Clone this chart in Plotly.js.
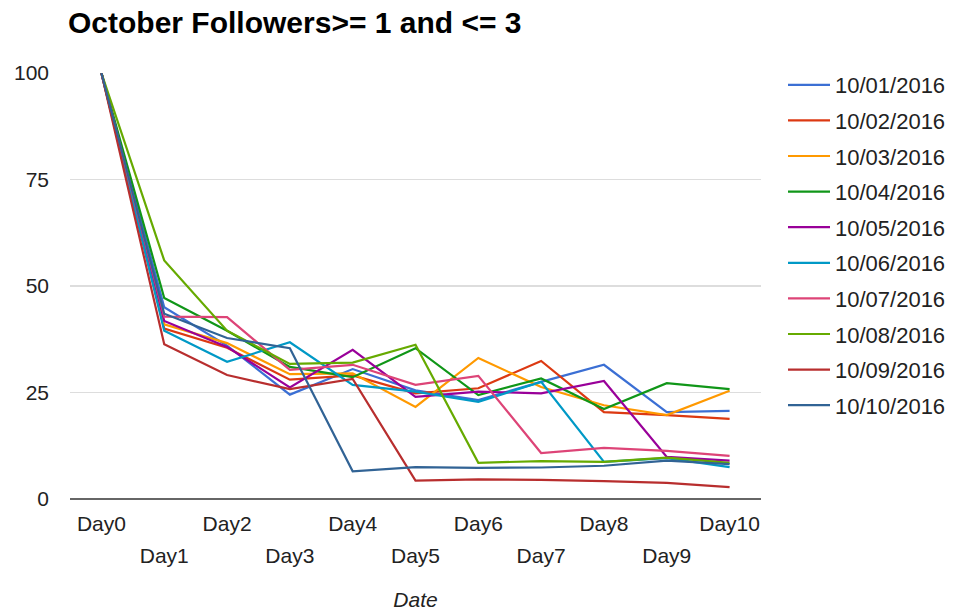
<!DOCTYPE html>
<html><head><meta charset="utf-8">
<script src="https://cdn.plot.ly/plotly-3.0.1.min.js"></script>
<style>html,body{margin:0;padding:0;background:#fff}#chart{width:960px;height:611px}</style>
</head><body><div id="chart"></div>
<script>
const days = ["Day0","Day1","Day2","Day3","Day4","Day5","Day6","Day7","Day8","Day9","Day10"];
const seriesNames = ["10/01/2016","10/02/2016","10/03/2016","10/04/2016","10/05/2016","10/06/2016","10/07/2016","10/08/2016","10/09/2016","10/10/2016"];
const colors = ["#3b6fd4","#dc3912","#ff9900","#109618","#990099","#0099c6","#dd4477","#66aa00","#b82e2e","#316395"];
const s1001 = [100, 45, 36, 24.5, 30.5, 25.5, 23.2, 27.5, 31.5, 20.4, 20.7];
const s1002 = [100, 40, 35.5, 28, 29, 24.8, 26, 32.4, 20.4, 19.7, 18.8];
const s1003 = [100, 41, 36.6, 29.3, 29.5, 21.6, 33.1, 26.3, 22, 19.7, 25.4];
const s1004 = [100, 47.2, 39.5, 31, 28.6, 35.4, 24.4, 28.3, 21.1, 27.2, 25.8];
const s1005 = [100, 41.8, 35.7, 26.2, 35, 24, 25.2, 24.8, 27.7, 9.9, 9];
const s1006 = [100, 39.5, 32.2, 36.8, 26.8, 25.2, 22.8, 27.5, 8.7, 9.6, 7.5];
const s1007 = [100, 42.8, 42.7, 30.3, 31.5, 26.8, 28.9, 10.8, 12, 11.3, 10.1];
const s1008 = [100, 56, 39.5, 31.7, 32, 36.2, 8.5, 8.9, 8.7, 9.7, 8.5];
const s1009 = [100, 36.3, 29.1, 25.8, 28.2, 4.3, 4.6, 4.5, 4.2, 3.8, 2.8];
const s1010 = [100, 43.5, 37.8, 35.4, 6.5, 7.5, 7.3, 7.4, 7.8, 9, 8.2];
const allSeries = [s1001,s1002,s1003,s1004,s1005,s1006,s1007,s1008,s1009,s1010];
const yTicks = [0, 25, 50, 75, 100];

const traces = allSeries.map((vals, i) => ({
  type: "scatter", mode: "lines",
  x: days.map((d, k) => k), y: vals,
  name: seriesNames[i], legendgroup: "g" + i,
  line: {color: colors[i], width: 2.2},
  xaxis: "x", yaxis: "y"
}));

const evenIdx = days.map((d,k)=>k).filter(k=>k%2===0);
const oddIdx = days.map((d,k)=>k).filter(k=>k%2===1);
const FS = 21;

const layout = {
  width: 960, height: 611,
  margin: {l: 70, r: 199, t: 73, b: 112},
  paper_bgcolor: "#fff", plot_bgcolor: "#fff",
  font: {family: "Liberation Sans, Arial, sans-serif", color: "#222", size: FS},
  title: {text: "<b>October Followers>= 1 and <= 3</b>", x: 68/960, xanchor: "left", xref: "container", y: 1 - 22/611, yanchor: "middle", yref: "container", font: {size: 30, color: "#000"}},
  xaxis: {
    range: [-0.5, 10.5], tickmode: "array", tickvals: evenIdx, ticktext: evenIdx.map(k=>days[k]),
    showgrid: false, zeroline: false, showline: false, ticks: "", ticklabelstandoff: 10,
    tickfont: {size: FS, color: "#222"},
    title: {text: "<i>Date</i>", font: {size: FS, color: "#222"}, standoff: 58}
  },
  xaxis2: {
    overlaying: "x", anchor: "y", side: "bottom", matches: "x",
    range: [-0.5, 10.5], tickmode: "array", tickvals: oddIdx, ticktext: oddIdx.map(k=>days[k]),
    showgrid: false, zeroline: false, showline: false, ticks: "", ticklabelstandoff: 42,
    tickfont: {size: FS, color: "#222"}
  },
  yaxis: {
    range: [0, 100], tickmode: "array", tickvals: yTicks, ticktext: yTicks.map(String),
    showgrid: true, gridcolor: "#dddddd", gridwidth: 1.5,
    zeroline: true, zerolinecolor: "#666", zerolinewidth: 2, showline: false, ticks: "", ticklabelstandoff: 20,
    tickfont: {size: FS, color: "#222"}
  },
  legend: {x: 783/960, xref: "container", xanchor: "left", y: 1 - 64/611, yref: "container", yanchor: "top",
    font: {size: 22, color: "#222"}, tracegroupgap: 4, itemwidth: 42, maxheight: 520, bgcolor: "rgba(0,0,0,0)"},
  showlegend: true
};
traces.push({type:"scatter", mode:"lines", x:[0], y:[null], xaxis:"x2", yaxis:"y", showlegend:false, hoverinfo:"skip"});
Plotly.newPlot("chart", traces, layout, {displayModeBar: false, staticPlot: true});
</script></body></html>
